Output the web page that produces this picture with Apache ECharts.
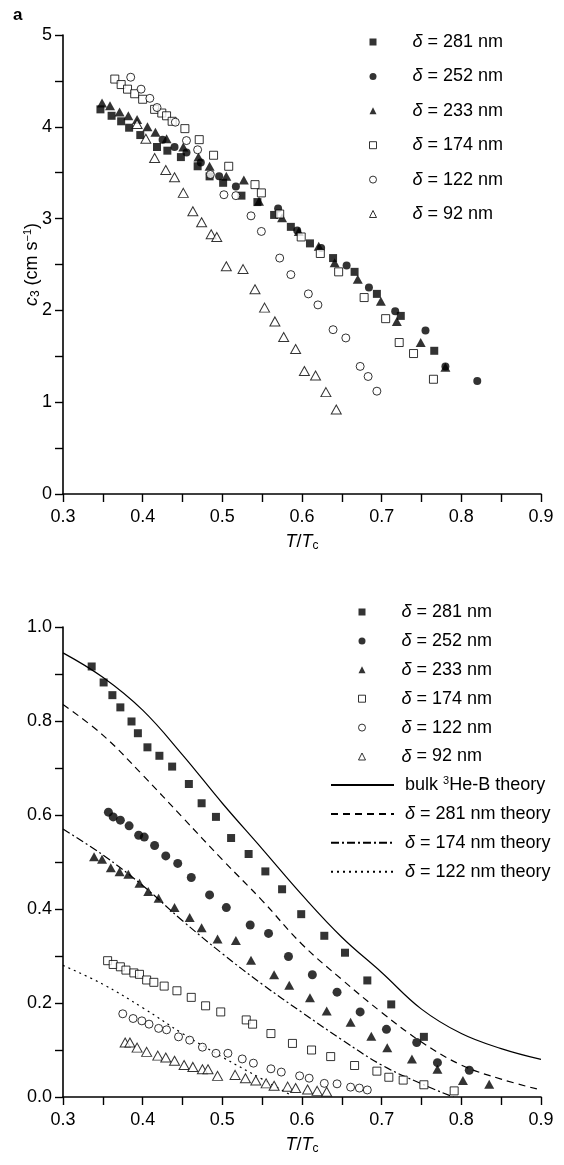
<!DOCTYPE html>
<html><head><meta charset="utf-8">
<script src="https://cdn.jsdelivr.net/npm/echarts@6/dist/echarts.min.js"></script>
<style>html,body{margin:0;padding:0;background:#fff}#c{width:564px;height:1165px}</style>
</head><body><div id="c"></div><script>
// ---------- Panel a: c3 (cm/s) vs T/Tc ----------
const top281 = [[0.347,4.19],[0.361,4.12],[0.373,4.06],[0.383,3.99],[0.397,3.91],[0.418,3.78],[0.431,3.74],[0.448,3.67],[0.469,3.57],[0.484,3.46],[0.501,3.39],[0.524,3.25],[0.544,3.18],[0.565,3.04],[0.586,2.91],[0.610,2.73],[0.639,2.57],[0.666,2.42],[0.694,2.18],[0.724,1.94],[0.766,1.56]];
const top252 = [[0.425,3.86],[0.440,3.78],[0.455,3.72],[0.473,3.61],[0.496,3.46],[0.517,3.35],[0.570,3.11],[0.594,2.87],[0.624,2.68],[0.656,2.49],[0.684,2.25],[0.717,1.99],[0.755,1.78],[0.780,1.39],[0.820,1.23]];
const top233 = [[0.349,4.26],[0.359,4.23],[0.371,4.16],[0.382,4.12],[0.393,4.08],[0.406,4.00],[0.416,3.94],[0.430,3.87],[0.451,3.78],[0.470,3.67],[0.484,3.57],[0.505,3.46],[0.527,3.42],[0.546,3.19],[0.575,3.01],[0.596,2.86],[0.621,2.70],[0.641,2.52],[0.670,2.34],[0.699,2.10],[0.719,1.88],[0.749,1.65],[0.780,1.38]];
const top174 = [[0.365,4.52],[0.373,4.46],[0.381,4.41],[0.390,4.36],[0.400,4.30],[0.415,4.19],[0.424,4.15],[0.430,4.12],[0.437,4.06],[0.453,3.98],[0.471,3.86],[0.489,3.69],[0.508,3.57],[0.541,3.37],[0.549,3.28],[0.572,3.05],[0.599,2.80],[0.623,2.62],[0.646,2.42],[0.678,2.14],[0.705,1.91],[0.722,1.65],[0.740,1.53],[0.765,1.25]];
const top122 = [[0.385,4.54],[0.398,4.41],[0.409,4.31],[0.418,4.21],[0.441,4.05],[0.455,3.85],[0.469,3.75],[0.485,3.48],[0.502,3.26],[0.517,3.25],[0.536,3.03],[0.549,2.86],[0.572,2.57],[0.586,2.39],[0.608,2.18],[0.620,2.06],[0.639,1.79],[0.655,1.70],[0.673,1.39],[0.683,1.28],[0.694,1.12]];
const top92 = [[0.393,4.03],[0.404,3.87],[0.415,3.66],[0.429,3.53],[0.440,3.45],[0.451,3.28],[0.463,3.08],[0.474,2.96],[0.486,2.83],[0.493,2.80],[0.505,2.48],[0.526,2.45],[0.541,2.23],[0.553,2.03],[0.566,1.88],[0.577,1.71],[0.592,1.58],[0.603,1.34],[0.617,1.29],[0.630,1.11],[0.643,0.92]];

// ---------- Panel b ----------
const bot281 = [[0.336,0.916],[0.351,0.882],[0.362,0.855],[0.372,0.829],[0.386,0.799],[0.394,0.774],[0.406,0.744],[0.421,0.726],[0.437,0.703],[0.458,0.666],[0.474,0.625],[0.492,0.596],[0.511,0.551],[0.533,0.517],[0.554,0.480],[0.575,0.442],[0.599,0.389],[0.628,0.343],[0.654,0.307],[0.682,0.248],[0.712,0.197],[0.753,0.128]];
const bot252 = [[0.357,0.606],[0.363,0.596],[0.372,0.589],[0.383,0.577],[0.395,0.557],[0.402,0.553],[0.415,0.535],[0.429,0.513],[0.444,0.497],[0.461,0.467],[0.484,0.430],[0.505,0.403],[0.535,0.366],[0.558,0.348],[0.583,0.299],[0.613,0.260],[0.644,0.223],[0.673,0.181],[0.706,0.144],[0.744,0.116],[0.770,0.073],[0.810,0.057]];
const bot233 = [[0.339,0.511],[0.349,0.506],[0.360,0.488],[0.371,0.479],[0.382,0.474],[0.396,0.455],[0.407,0.437],[0.420,0.423],[0.440,0.403],[0.459,0.382],[0.474,0.360],[0.494,0.336],[0.517,0.333],[0.536,0.291],[0.565,0.260],[0.584,0.238],[0.610,0.211],[0.631,0.183],[0.661,0.159],[0.687,0.129],[0.707,0.105],[0.738,0.081],[0.770,0.059],[0.802,0.035],[0.835,0.027]];
const bot174 = [[0.356,0.290],[0.363,0.282],[0.372,0.277],[0.379,0.270],[0.389,0.264],[0.396,0.261],[0.405,0.249],[0.414,0.244],[0.427,0.236],[0.443,0.226],[0.461,0.212],[0.479,0.194],[0.498,0.181],[0.530,0.164],[0.538,0.155],[0.561,0.135],[0.588,0.114],[0.612,0.100],[0.636,0.086],[0.666,0.067],[0.694,0.055],[0.709,0.042],[0.727,0.036],[0.753,0.026],[0.791,0.013]];
const bot122 = [[0.375,0.177],[0.388,0.167],[0.399,0.162],[0.408,0.155],[0.420,0.146],[0.430,0.143],[0.445,0.128],[0.459,0.121],[0.475,0.106],[0.492,0.093],[0.507,0.093],[0.525,0.081],[0.539,0.072],[0.561,0.060],[0.574,0.053],[0.597,0.045],[0.609,0.040],[0.628,0.029],[0.644,0.028],[0.661,0.021],[0.672,0.019],[0.682,0.015]];
const bot92 = [[0.378,0.116],[0.384,0.116],[0.393,0.105],[0.405,0.096],[0.419,0.088],[0.429,0.084],[0.440,0.077],[0.452,0.068],[0.463,0.064],[0.475,0.059],[0.482,0.059],[0.494,0.045],[0.516,0.047],[0.529,0.040],[0.542,0.035],[0.555,0.029],[0.565,0.024],[0.582,0.022],[0.592,0.019],[0.607,0.016],[0.619,0.013],[0.631,0.011]];

const thBulk = [[0.30,0.945],[0.35,0.893],[0.40,0.823],[0.45,0.728],[0.50,0.625],[0.55,0.528],[0.60,0.430],[0.65,0.340],[0.70,0.265],[0.75,0.187],[0.80,0.135],[0.85,0.103],[0.90,0.080]];
const th281 = [[0.30,0.835],[0.35,0.770],[0.40,0.685],[0.45,0.595],[0.50,0.505],[0.55,0.418],[0.60,0.325],[0.65,0.250],[0.70,0.180],[0.75,0.117],[0.80,0.068],[0.85,0.038],[0.90,0.015]];
const th174 = [[0.30,0.570],[0.35,0.515],[0.40,0.450],[0.45,0.375],[0.50,0.305],[0.55,0.240],[0.60,0.180],[0.65,0.122],[0.70,0.068],[0.75,0.028],[0.79,0.000]];
const th122 = [[0.30,0.280],[0.35,0.240],[0.40,0.190],[0.45,0.135],[0.50,0.085],[0.55,0.038],[0.585,0.005]];

const xTickLabels = ['0.3','0.4','0.5','0.6','0.7','0.8','0.9'];
const yTopLabels = ['0','1','2','3','4','5'];
const yBotLabels = ['0.0','0.2','0.4','0.6','0.8','1.0'];

const legendText = {
  a281:'{i|δ} = 281 nm', a252:'{i|δ} = 252 nm', a233:'{i|δ} = 233 nm', a174:'{i|δ} = 174 nm', a122:'{i|δ} = 122 nm', a92:'{i|δ} = 92 nm',
  b281:'{i|δ} = 281 nm', b252:'{i|δ} = 252 nm', b233:'{i|δ} = 233 nm', b174:'{i|δ} = 174 nm', b122:'{i|δ} = 122 nm', b92:'{i|δ} = 92 nm',
  bulk:'bulk {sup|3}He-B theory', t281:'{i|δ} = 281 nm theory', t174:'{i|δ} = 174 nm theory', t122:'{i|δ} = 122 nm theory'
};

const FONT = '"Liberation Sans", Arial, Helvetica, sans-serif';
const richBase = {
  i:{fontStyle:'italic', fontSize:18, fontFamily:FONT, color:'#000'},
  sup:{fontSize:11, fontFamily:FONT, color:'#000', padding:[0,0,9,0]},
  sub:{fontSize:12, fontFamily:FONT, color:'#000', padding:[8,0,0,0]}
};

function fmtX(v){ const k = Math.round(v*10); return Math.abs(v*10-k)<1e-6 ? xTickLabels[k-3] : ''; }
function fmtYTop(v){ const k = Math.round(v); return Math.abs(v-k)<1e-6 ? yTopLabels[k] : ''; }
function fmtYBot(v){ const k = Math.round(v*5); return Math.abs(v*5-k)<1e-6 ? yBotLabels[k] : ''; }

const axisCommon = {
  axisLine:{show:true, lineStyle:{color:'#000', width:1.6}},
  axisTick:{show:true, inside:false, length:8, lineStyle:{color:'#000', width:1.4}},
  splitLine:{show:false},
  axisLabel:{color:'#000', fontSize:18, fontFamily:FONT}
};

function xAxis(gi, gap){
  return Object.assign({}, axisCommon, {
    type:'value', gridIndex:gi, min:0.3, max:0.9, interval:0.05,
    axisLabel:Object.assign({}, axisCommon.axisLabel, {formatter:fmtX, margin:14, showMinLabel:true, showMaxLabel:true}),
    name:'{i|T}/{i|T}{sub|c}', nameLocation:'middle', nameGap:gap, nameMoveOverlap:false,
    nameTextStyle:{fontSize:18, fontFamily:FONT, color:'#000', rich:richBase}
  });
}

const black = {color:'#000'};
const open = {color:'#fff', borderColor:'#000', borderWidth:1};
const hidden = {color:'rgba(0,0,0,0)', borderColor:'rgba(0,0,0,0)', borderWidth:0};

function sc(name, data, gi, symbol, size, style){
  return {type:'scatter', name:name, xAxisIndex:gi, yAxisIndex:gi, data:data, symbol:symbol, symbolSize:size, itemStyle:style, z:3};
}
function ln(name, data, dash){
  return {type:'line', name:name, xAxisIndex:1, yAxisIndex:1, data:data, symbol:'none', smooth:0.4, itemStyle:{color:'#000'}, lineStyle:{color:'#000', width:1.2, type:dash}, z:2};
}

function legItem(name, icon, style){ return {name:name, icon:icon, itemStyle:style}; }

const option = {
  animation:false,
  backgroundColor:'#fff',
  title:{text:'a', left:8, top:2, textStyle:{fontSize:17, fontWeight:'bold', fontFamily:FONT, color:'#000'}},
  grid:[
    {left:63, right:23, top:35, height:459},
    {left:63, right:23, top:627, height:470}
  ],
  xAxis:[xAxis(0, 38), xAxis(1, 38)],
  yAxis:[
    Object.assign({}, axisCommon, {type:'value', gridIndex:0, min:0, max:5, interval:0.5,
      axisLabel:Object.assign({}, axisCommon.axisLabel, {formatter:fmtYTop, margin:11}),
      name:'{i|c}{sub|3} (cm s{sup|−1})', nameLocation:'middle', nameGap:21, nameRotate:90, nameMoveOverlap:false,
      nameTextStyle:{fontSize:18, fontFamily:FONT, color:'#000', rich:richBase}}),
    Object.assign({}, axisCommon, {type:'value', gridIndex:1, min:0, max:1, interval:0.1,
      axisLabel:Object.assign({}, axisCommon.axisLabel, {formatter:fmtYBot, margin:11})})
  ],
  legend:[
    {orient:'vertical', left:364, top:27, itemWidth:7, itemHeight:7, itemGap:14.4, selectedMode:false,
      textStyle:{fontSize:18, fontFamily:FONT, color:'#000', lineHeight:20, padding:[0,0,0,31], rich:richBase},
      formatter:n=>legendText[n],
      data:[legItem('a281','rect',black), legItem('a252','circle',black), legItem('a233','triangle',black),
            legItem('a174','rect',open), legItem('a122','circle',open), legItem('a92','triangle',open)]},
    {orient:'vertical', left:353, top:597, itemWidth:7, itemHeight:7, itemGap:8.9, selectedMode:false,
      textStyle:{fontSize:18, fontFamily:FONT, color:'#000', lineHeight:20, padding:[0,0,0,31], rich:richBase},
      formatter:n=>legendText[n],
      data:[legItem('b281','rect',black), legItem('b252','circle',black), legItem('b233','triangle',black),
            legItem('b174','rect',open), legItem('b122','circle',open), legItem('b92','triangle',open)]},
    {orient:'vertical', left:325, top:770, itemWidth:63, itemHeight:8, itemGap:8.9, selectedMode:false,
      textStyle:{fontSize:18, fontFamily:FONT, color:'#000', lineHeight:20, padding:[0,0,0,6], rich:richBase},
      formatter:n=>legendText[n],
      data:[legItem('bulk',undefined,hidden), legItem('t281',undefined,hidden), legItem('t174',undefined,hidden), legItem('t122',undefined,hidden)]}
  ],
  series:[
    sc('a281', top281, 0, 'rect', 8, black),
    sc('a252', top252, 0, 'circle', 8, black),
    sc('a233', top233, 0, 'triangle', [10,9], black),
    sc('a174', top174, 0, 'rect', 8, open),
    sc('a122', top122, 0, 'circle', 8, open),
    sc('a92', top92, 0, 'triangle', [10,9], open),
    sc('b281', bot281, 1, 'rect', 8, black),
    sc('b252', bot252, 1, 'circle', 9, black),
    sc('b233', bot233, 1, 'triangle', [10,9], black),
    sc('b174', bot174, 1, 'rect', 8, open),
    sc('b122', bot122, 1, 'circle', 8, open),
    sc('b92', bot92, 1, 'triangle', [10,9], open),
    ln('bulk', thBulk, 'solid'),
    ln('t281', th281, [7,5]),
    ln('t174', th174, [8,3,2,3]),
    ln('t122', th122, [2,4])
  ]
};
const chart = echarts.init(document.getElementById('c'), null, {renderer:'canvas'});
chart.setOption(option);
</script></body></html>
